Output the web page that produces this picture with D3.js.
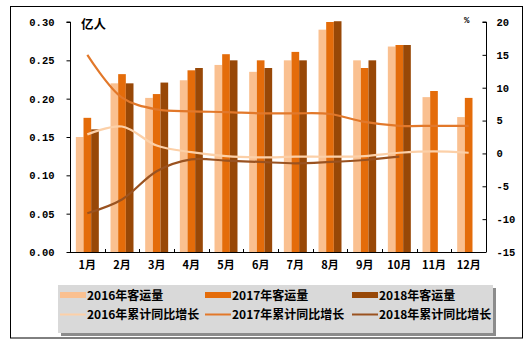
<!DOCTYPE html>
<html><head><meta charset="utf-8">
<script src="https://cdn.jsdelivr.net/npm/d3@7"></script>
<style>body{margin:0;background:#fff}svg{display:block}</style>
</head><body>
<script>
const months = ["1月","2月","3月","4月","5月","6月","7月","8月","9月","10月","11月","12月"];
const vol2016 = [0.150,0.220,0.201,0.224,0.244,0.235,0.250,0.290,0.250,0.268,0.202,0.176];
const vol2017 = [0.175,0.232,0.206,0.237,0.258,0.250,0.261,0.300,0.240,0.270,0.210,0.201];
const vol2018 = [0.160,0.220,0.221,0.240,0.250,0.240,0.250,0.301,0.250,0.270,null,null];
const grow2016 = [2.9,4.1,1.2,0.2,-0.4,-0.6,-0.5,-0.5,-0.4,0.1,0.3,0.1];
const grow2017 = [15.0,8.5,6.7,6.4,6.3,6.1,6.1,6.0,4.8,4.2,4.2,4.2];
const grow2018 = [-9.1,-7.0,-2.7,-0.9,-1.1,-1.3,-1.5,-1.3,-1.0,-0.5,null,null];
const leftTicks = [0,0.05,0.10,0.15,0.20,0.25,0.30];
const rightTicks = [-15,-10,-5,0,5,10,15,20];
const barNames = ["2016年客运量","2017年客运量","2018年客运量"];
const lineNames = ["2016年累计同比增长","2017年累计同比增长","2018年累计同比增长"];
const barColors = ["#FAC090","#E46C0A","#984807"];
const lineColors = ["#FCD0A8","#E2782A","#9A5220"];

const W=531,H=339;
const svg=d3.select("body").append("svg").attr("width",W).attr("height",H);
const numFont="'Liberation Mono', monospace";
const cjkFont="'Noto Sans CJK SC', sans-serif";

svg.append("rect").attr("x",10.5).attr("y",6.5).attr("width",512).attr("height",331.5)
  .attr("fill","#fff").attr("stroke","#000").attr("stroke-width",1);

const L=70,R=486,T=22,B=252;
const x=d3.scaleBand().domain(months).range([L,R]).paddingInner(0.337).paddingOuter(0.1685);
const xs=d3.scaleBand().domain([0,1,2]).range([0,x.bandwidth()]);
const yL=d3.scaleLinear().domain([0,0.30]).range([B,T]);
const yR=d3.scaleLinear().domain([-15,20]).range([B,T]);

const vols=[vol2016,vol2017,vol2018];
vols.forEach((arr,si)=>{
  svg.append("g").selectAll("rect").data(months.map((m,i)=>({m,v:arr[i]})).filter(d=>d.v!=null))
    .join("rect")
    .attr("x",d=>x(d.m)+xs(si)).attr("width",xs.bandwidth())
    .attr("y",d=>yL(d.v)).attr("height",d=>B-yL(d.v))
    .attr("fill",barColors[si]);
});

const grows=[grow2016,grow2017,grow2018];
const line=d3.line().defined(d=>d.v!=null).x(d=>x(d.m)+x.bandwidth()/2).y(d=>yR(d.v))
  .curve(d3.curveCatmullRom.alpha(0.5));
grows.forEach((arr,si)=>{
  svg.append("path").datum(months.map((m,i)=>({m,v:arr[i]})))
    .attr("d",line).attr("fill","none").attr("stroke",lineColors[si]).attr("stroke-width",2.2);
});

// axes
const axL=d3.axisLeft(yL).tickValues(leftTicks).tickSize(4).tickFormat(d3.format(".2f"));
const gL=svg.append("g").attr("transform",`translate(${L+0.5},0)`).call(axL);
gL.select(".domain").attr("d",`M-4,${T}H0V${B}`);
gL.selectAll("text").attr("x",-16).attr("font-family",numFont).attr("font-size",10.5).attr("font-weight","bold").attr("fill","#000");

const axR=d3.axisLeft(yR).tickValues(rightTicks).tickSize(4).tickFormat(d=>d3.format("d")(d).replace("−","-"));
const gR=svg.append("g").attr("transform",`translate(${R+0.5},0)`).call(axR);
gR.select(".domain").attr("d",`M-4,${T}H0V${B}`);
gR.selectAll("text").attr("x",10).attr("text-anchor","start").attr("font-family",numFont).attr("font-size",10.5).attr("font-weight","bold").attr("fill","#000");

const axB=d3.axisBottom(x).tickSize(0).tickSizeOuter(0);
const gB=svg.append("g").attr("transform",`translate(0,${B+0.5})`).call(axB);
gB.select(".domain").attr("d",`M${L},0H${R}`);
gB.selectAll("text").attr("y",9).attr("font-family",cjkFont).attr("font-size",11).attr("font-weight","bold").attr("fill","#000");
// category separator ticks
svg.append("g").selectAll("line").data(months.slice(1)).join("line")
  .attr("x1",d=>Math.round(x(d)-x.step()*x.paddingInner()/2)+0.5)
  .attr("x2",d=>Math.round(x(d)-x.step()*x.paddingInner()/2)+0.5)
  .attr("y1",B-3).attr("y2",B).attr("stroke","#000");

svg.append("text").attr("x",81).attr("y",29).text("亿人").attr("font-family",cjkFont)
  .attr("font-size",12.5).attr("font-weight","bold");
svg.append("text").attr("x",464).attr("y",23).text("%").attr("font-family",numFont)
  .attr("font-size",9).attr("font-weight","bold");

// legend
const lg=svg.append("g");
lg.append("rect").attr("x",61).attr("y",288).attr("width",435).attr("height",48).attr("fill","#8c8c8c");
lg.append("rect").attr("x",58).attr("y",285).attr("width",435).attr("height",48).attr("fill","#D9D9D9");
const itemX=[60,205,352];
barNames.forEach((n,i)=>{
  lg.append("rect").attr("x",itemX[i]).attr("y",292).attr("width",26).attr("height",6).attr("fill",barColors[i]);
  lg.append("text").attr("x",itemX[i]+27).attr("y",299.5).text(n).attr("font-family",cjkFont)
    .attr("font-size",12).attr("font-weight","bold").attr("fill","#000");
});
lineNames.forEach((n,i)=>{
  lg.append("line").attr("x1",itemX[i]).attr("x2",itemX[i]+26).attr("y1",314.5).attr("y2",314.5)
    .attr("stroke",lineColors[i]).attr("stroke-width",2);
  lg.append("text").attr("x",itemX[i]+27).attr("y",319).text(n).attr("font-family",cjkFont)
    .attr("font-size",12).attr("font-weight","bold").attr("fill","#000");
});
</script>
</body></html>
